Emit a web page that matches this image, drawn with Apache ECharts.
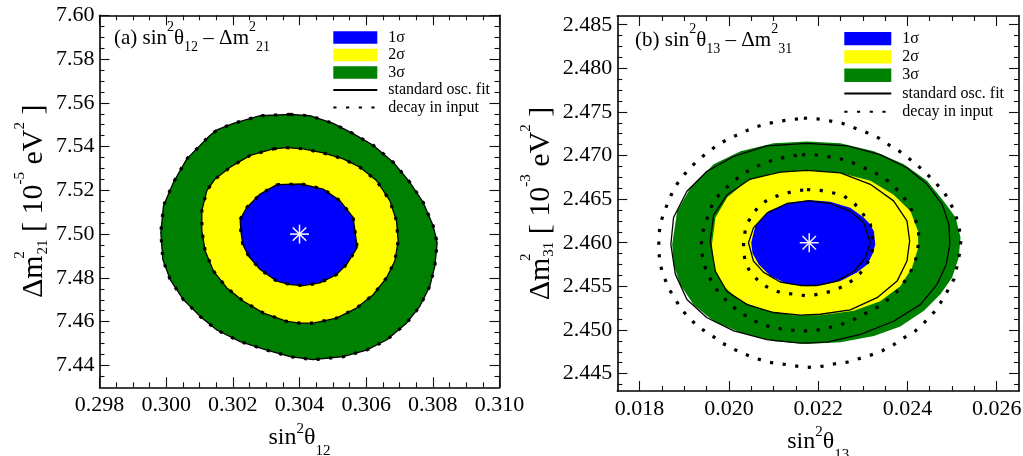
<!DOCTYPE html>
<html><head><meta charset="utf-8">
<script src="https://cdn.jsdelivr.net/npm/echarts@6/dist/echarts.min.js"></script>
<style>html,body{margin:0;padding:0;background:#fff}#c{width:1023px;height:456px}</style>
</head><body><div id="c"></div>
<script>
const FONT = "'Liberation Serif','Times New Roman',serif";

// ---- tick labels ----
const leftXTicks = [0.298, 0.300, 0.302, 0.304, 0.306, 0.308, 0.310];
const leftYTicks = [7.44, 7.46, 7.48, 7.50, 7.52, 7.54, 7.56, 7.58, 7.60];
const rightXTicks = [0.018, 0.020, 0.022, 0.024, 0.026];
const rightYTicks = [2.445, 2.450, 2.455, 2.460, 2.465, 2.470, 2.475, 2.480, 2.485];

// ---- best-fit points ----
const leftBest = [0.304, 7.50];
const rightBest = [0.0218, 2.460];

// ---- panel (a): sin^2 theta12 - dm^2_21 contours (fill = standard fit = decay) ----
const left3s = [[0.30372,7.5547],[0.30431,7.5541],[0.30501,7.5506],[0.30561,7.5459],[0.30621,7.5406],[0.30681,7.5329],[0.30731,7.5237],[0.30771,7.5145],[0.30801,7.5038],[0.30813,7.4961],[0.30806,7.4854],[0.30791,7.4762],[0.30761,7.4670],[0.30721,7.4593],[0.30661,7.4516],[0.30601,7.4470],[0.30531,7.4440],[0.30441,7.4426],[0.30372,7.4440],[0.30302,7.4470],[0.30222,7.4509],[0.30152,7.4562],[0.30102,7.4624],[0.30052,7.4700],[0.30012,7.4792],[0.29990,7.4884],[0.29984,7.5007],[0.29992,7.5130],[0.30022,7.5237],[0.30062,7.5344],[0.30132,7.5452],[0.30152,7.5476],[0.30202,7.5506],[0.30282,7.5541]];
const left2s = [[0.30322,7.5390],[0.30362,7.5395],[0.30411,7.5390],[0.30471,7.5371],[0.30531,7.5344],[0.30581,7.5306],[0.30631,7.5245],[0.30671,7.5153],[0.30691,7.5061],[0.30696,7.4969],[0.30686,7.4877],[0.30661,7.4800],[0.30621,7.4723],[0.30571,7.4662],[0.30511,7.4616],[0.30441,7.4593],[0.30401,7.4593],[0.30362,7.4601],[0.30292,7.4639],[0.30232,7.4693],[0.30182,7.4754],[0.30142,7.4831],[0.30117,7.4923],[0.30107,7.5015],[0.30107,7.5107],[0.30122,7.5199],[0.30147,7.5252],[0.30192,7.5306],[0.30252,7.5360]];
const left1s = [[0.30332,7.5226],[0.30407,7.5229],[0.30471,7.5206],[0.30521,7.5153],[0.30561,7.5076],[0.30573,7.4938],[0.30541,7.4861],[0.30511,7.4815],[0.30461,7.4777],[0.30411,7.4765],[0.30372,7.4769],[0.30332,7.4785],[0.30282,7.4838],[0.30247,7.4900],[0.30230,7.4953],[0.30224,7.5015],[0.30222,7.5068],[0.30242,7.5122],[0.30282,7.5183]];

// ---- panel (b): sin^2 theta13 - dm^2_31 ----
const right3sFill = [[0.02175,2.4716],[0.02250,2.4714],[0.02325,2.4705],[0.02392,2.4690],[0.02444,2.4671],[0.02481,2.4648],[0.02508,2.4629],[0.02519,2.4606],[0.02515,2.4583],[0.02500,2.4560],[0.02474,2.4541],[0.02437,2.4522],[0.02384,2.4504],[0.02325,2.4493],[0.02250,2.4486],[0.02175,2.4484],[0.02100,2.4487],[0.02026,2.4497],[0.01966,2.4510],[0.01921,2.4529],[0.01891,2.4552],[0.01876,2.4575],[0.01873,2.4598],[0.01884,2.4636],[0.01914,2.4663],[0.01966,2.4690],[0.02026,2.4705],[0.02100,2.4714]];
const right2sFill = [[0.02175,2.4683],[0.02250,2.4680],[0.02317,2.4671],[0.02369,2.4655],[0.02407,2.4636],[0.02424,2.4613],[0.02424,2.4594],[0.02410,2.4571],[0.02384,2.4550],[0.02339,2.4533],[0.02280,2.4522],[0.02205,2.4517],[0.02145,2.4517],[0.02085,2.4522],[0.02026,2.4533],[0.01988,2.4550],[0.01967,2.4571],[0.01962,2.4598],[0.01970,2.4629],[0.01996,2.4652],[0.02041,2.4671],[0.02100,2.4680]];
const right1sFill = [[0.02179,2.4649],[0.02227,2.4647],[0.02272,2.4640],[0.02302,2.4629],[0.02317,2.4621],[0.02325,2.4613],[0.02328,2.4598],[0.02322,2.4587],[0.02310,2.4575],[0.02287,2.4566],[0.02250,2.4556],[0.02205,2.4551],[0.02175,2.4550],[0.02130,2.4553],[0.02093,2.4562],[0.02067,2.4575],[0.02053,2.4588],[0.02050,2.4600],[0.02059,2.4619],[0.02089,2.4636],[0.02130,2.4645]];

const right3sStd = [[0.02175,2.4714],[0.02265,2.4711],[0.02339,2.4701],[0.02399,2.4686],[0.02444,2.4667],[0.02478,2.4644],[0.02493,2.4621],[0.02495,2.4598],[0.02487,2.4575],[0.02466,2.4552],[0.02429,2.4529],[0.02369,2.4510],[0.02295,2.4495],[0.02220,2.4486],[0.02160,2.4485],[0.02085,2.4489],[0.02011,2.4499],[0.01951,2.4514],[0.01906,2.4535],[0.01880,2.4564],[0.01870,2.4598],[0.01876,2.4629],[0.01906,2.4659],[0.01951,2.4682],[0.02011,2.4699],[0.02085,2.4711]];
const right2sStd = [[0.02175,2.4683],[0.02250,2.4680],[0.02317,2.4667],[0.02369,2.4648],[0.02399,2.4625],[0.02405,2.4602],[0.02399,2.4579],[0.02377,2.4556],[0.02332,2.4537],[0.02272,2.4523],[0.02205,2.4518],[0.02160,2.4517],[0.02100,2.4520],[0.02041,2.4529],[0.01996,2.4544],[0.01970,2.4567],[0.01958,2.4602],[0.01966,2.4632],[0.01996,2.4655],[0.02048,2.4673],[0.02115,2.4681]];
const right1sStd = [[0.02179,2.4648],[0.02227,2.4645],[0.02272,2.4636],[0.02302,2.4623],[0.02317,2.4600],[0.02306,2.4583],[0.02280,2.4567],[0.02242,2.4556],[0.02198,2.4551],[0.02160,2.4551],[0.02115,2.4555],[0.02078,2.4566],[0.02055,2.4579],[0.02044,2.4600],[0.02055,2.4617],[0.02085,2.4634],[0.02130,2.4645]];

const right3sDecay = [[0.02168,2.4743],[0.02198,2.4742],[0.02224,2.4740],[0.02254,2.4737],[0.02280,2.4732],[0.02310,2.4726],[0.02336,2.4720],[0.02362,2.4711],[0.02388,2.4703],[0.02410,2.4694],[0.02433,2.4684],[0.02455,2.4673],[0.02481,2.4659],[0.02496,2.4646],[0.02508,2.4632],[0.02515,2.4619],[0.02520,2.4604],[0.02517,2.4588],[0.02511,2.4573],[0.02504,2.4558],[0.02489,2.4544],[0.02474,2.4531],[0.02459,2.4520],[0.02437,2.4508],[0.02418,2.4499],[0.02392,2.4491],[0.02369,2.4483],[0.02343,2.4476],[0.02317,2.4471],[0.02291,2.4467],[0.02265,2.4463],[0.02235,2.4461],[0.02205,2.4458],[0.02175,2.4457],[0.02145,2.4459],[0.02119,2.4461],[0.02089,2.4463],[0.02063,2.4467],[0.02037,2.4472],[0.02011,2.4478],[0.01985,2.4485],[0.01958,2.4495],[0.01936,2.4502],[0.01914,2.4512],[0.01895,2.4523],[0.01880,2.4535],[0.01865,2.4548],[0.01854,2.4562],[0.01846,2.4575],[0.01843,2.4590],[0.01843,2.4606],[0.01846,2.4621],[0.01854,2.4634],[0.01865,2.4648],[0.01876,2.4661],[0.01891,2.4673],[0.01910,2.4684],[0.01929,2.4694],[0.01951,2.4703],[0.01977,2.4713],[0.02003,2.4720],[0.02029,2.4726],[0.02055,2.4732],[0.02082,2.4736],[0.02108,2.4739],[0.02138,2.4741]];
const right2sDecay = [[0.02164,2.4701],[0.02190,2.4701],[0.02220,2.4699],[0.02250,2.4696],[0.02276,2.4692],[0.02302,2.4686],[0.02328,2.4680],[0.02351,2.4673],[0.02373,2.4663],[0.02392,2.4652],[0.02407,2.4640],[0.02418,2.4627],[0.02425,2.4613],[0.02425,2.4602],[0.02422,2.4587],[0.02414,2.4573],[0.02399,2.4560],[0.02384,2.4548],[0.02362,2.4537],[0.02336,2.4527],[0.02310,2.4520],[0.02280,2.4512],[0.02250,2.4506],[0.02220,2.4502],[0.02190,2.4499],[0.02160,2.4499],[0.02130,2.4500],[0.02100,2.4503],[0.02074,2.4506],[0.02048,2.4513],[0.02026,2.4520],[0.02003,2.4529],[0.01985,2.4539],[0.01966,2.4550],[0.01955,2.4562],[0.01944,2.4575],[0.01938,2.4594],[0.01940,2.4610],[0.01947,2.4621],[0.01955,2.4634],[0.01966,2.4648],[0.01985,2.4659],[0.02007,2.4669],[0.02029,2.4678],[0.02055,2.4686],[0.02082,2.4692],[0.02108,2.4696],[0.02134,2.4699]];
const right1sDecay = [[0.02175,2.4661],[0.02205,2.4660],[0.02235,2.4657],[0.02257,2.4654],[0.02283,2.4644],[0.02302,2.4632],[0.02317,2.4621],[0.02321,2.4606],[0.02321,2.4590],[0.02313,2.4579],[0.02298,2.4567],[0.02280,2.4558],[0.02257,2.4550],[0.02227,2.4544],[0.02201,2.4541],[0.02175,2.4539],[0.02145,2.4541],[0.02115,2.4543],[0.02089,2.4548],[0.02067,2.4556],[0.02048,2.4566],[0.02037,2.4577],[0.02033,2.4590],[0.02033,2.4602],[0.02037,2.4615],[0.02048,2.4629],[0.02067,2.4642],[0.02089,2.4650],[0.02115,2.4655],[0.02145,2.4659]];

// ---- helpers ----
function minorTicks(majors, n, lo, hi) {
  const step = (majors[1] - majors[0]) / n, out = [];
  const r = v => Math.round(v * 1e7) / 1e7;
  for (let v = majors[0] - step; v > lo + 1e-9; v -= step) out.push(r(v));
  for (let i = 0; i < majors.length - 1; i++)
    for (let k = 1; k < n; k++) out.push(r(majors[i] + k * step));
  for (let v = majors[majors.length - 1] + step; v < hi - 1e-9; v += step) out.push(r(v));
  return out;
}
function mkAxis(grid, pos, min, max, ticks, len, labelDigits, showLine, margin, extra) {
  return Object.assign({
    type: 'value', gridIndex: grid, position: pos, min: min, max: max, scale: true,
    axisLine: { show: showLine, onZero: false, lineStyle: { color: '#000', width: 1.6 } },
    axisTick: { show: true, inside: true, length: len, customValues: ticks, lineStyle: { color: '#111', width: 1.1 } },
    axisLabel: labelDigits ? { show: true, customValues: ticks, formatter: v => v.toFixed(labelDigits),
      fontFamily: FONT, fontSize: 22, color: '#000', margin: margin } : { show: false },
    splitLine: { show: false }, minorTick: { show: false }, axisPointer: { show: false }
  }, extra || {});
}
const LX = [0.298, 0.310], LY = [7.43, 7.60], RX = [0.0175, 0.0265], RY = [2.443, 2.486];
const lxMin = minorTicks(leftXTicks, 4, LX[0], LX[1]);
const lyMin = minorTicks(leftYTicks, 4, LY[0], LY[1]);
const rxMin = minorTicks(rightXTicks, 4, RX[0], RX[1]);
const ryMin = minorTicks(rightYTicks, 4, RY[0], RY[1]);

const supSub = (sz, up, down) => ({
  sup: { fontFamily: FONT, fontSize: sz, color: '#000', padding: [0, 0, up, 0] },
  sub: { fontFamily: FONT, fontSize: sz, color: '#000', padding: [down, 0, 0, 0] },
  sup0: { fontFamily: FONT, fontSize: sz, color: '#000', padding: [0, 0, up, 0], width: 1 }
});
const xName = 'sin{sup|2}θ{sub|12}';
const xNameR = 'sin{sup|2}θ{sub|13}';
const yName = 'Δm{sup0|2}{sub|21} [ 10{sup|-5} eV{sup|2} ]';
const yNameR = 'Δm{sup0|2}{sub|31} [ 10{sup|-3} eV{sup|2} ]';
const xNameStyle = { fontFamily: FONT, fontSize: 24, color: '#000', lineHeight: 28, rich: supSub(15, 19, 26) };
const yNameStyle = { fontFamily: FONT, fontSize: 30, color: '#000', lineHeight: 36, rich: supSub(15, 29, 17) };

const xAxes = [
  mkAxis(0, 'bottom', LX[0], LX[1], leftXTicks, 10, 3, true, 7, { name: xName, nameLocation: 'middle', nameGap: 33, nameTextStyle: xNameStyle }),
  mkAxis(0, 'bottom', LX[0], LX[1], lxMin, 5, 0, false),
  mkAxis(0, 'top', LX[0], LX[1], leftXTicks, 10, 0, true),
  mkAxis(0, 'top', LX[0], LX[1], lxMin, 5, 0, false),
  mkAxis(1, 'bottom', RX[0], RX[1], rightXTicks, 10, 3, true, 7, { name: xNameR, nameLocation: 'middle', nameGap: 33, nameTextStyle: xNameStyle }),
  mkAxis(1, 'bottom', RX[0], RX[1], rxMin, 5, 0, false),
  mkAxis(1, 'top', RX[0], RX[1], rightXTicks, 10, 0, true),
  mkAxis(1, 'top', RX[0], RX[1], rxMin, 5, 0, false)
];
const yAxes = [
  mkAxis(0, 'left', LY[0], LY[1], leftYTicks, 10, 2, true, 5, { name: yName, nameLocation: 'middle', nameGap: 39, nameTextStyle: yNameStyle }),
  mkAxis(0, 'left', LY[0], LY[1], lyMin, 5, 0, false),
  mkAxis(0, 'right', LY[0], LY[1], leftYTicks, 10, 0, true),
  mkAxis(0, 'right', LY[0], LY[1], lyMin, 5, 0, false),
  mkAxis(1, 'left', RY[0], RY[1], rightYTicks, 10, 3, true, 5, { name: yNameR, nameLocation: 'middle', nameGap: 51, nameTextStyle: yNameStyle }),
  mkAxis(1, 'left', RY[0], RY[1], ryMin, 5, 0, false),
  mkAxis(1, 'right', RY[0], RY[1], rightYTicks, 10, 0, true),
  mkAxis(1, 'right', RY[0], RY[1], ryMin, 5, 0, false)
];

const BLUE = '#0000ff', YELLOW = '#ffff00', GREEN = '#008000';
const SOLID = 'standard osc. fit', DOTTED = 'decay in input';
function fill(name, pts, color, g) {
  return { type: 'custom', name: name, xAxisIndex: g * 4, yAxisIndex: g * 4, data: pts, silent: true,
    itemStyle: { color: color }, z: 2,
    renderItem: (params, api) => params.dataIndex === 0 ? {
      type: 'polygon', shape: { points: pts.map(p => api.coord(p)) }, style: { fill: color, stroke: null } } : null };
}
function outline(name, pts, g, dotted) {
  return { type: 'line', name: name, xAxisIndex: g * 4, yAxisIndex: g * 4, data: pts.concat([pts[0]]),
    symbol: 'none', showSymbol: false, silent: true, z: dotted ? 4 : 3, color: '#000',
    lineStyle: dotted ? { color: '#000', width: 3.2, type: [3.2, 9.5], cap: 'butt' } : { color: '#000', width: 1.3, type: 'solid' } };
}
function star(pt, g, color) {
  return { type: 'custom', name: 'best fit', xAxisIndex: g * 4, yAxisIndex: g * 4, data: [pt], silent: true, z: 6,
    renderItem: (params, api) => {
      const c = api.coord([api.value(0), api.value(1)]), r = 9.5, d = r * 0.7071;
      const segs = [[0, -r, 0, r], [-r, 0, r, 0], [-d, -d, d, d], [-d, d, d, -d]];
      return { type: 'group', children: segs.map(s => ({ type: 'line',
        shape: { x1: c[0] + s[0], y1: c[1] + s[1], x2: c[0] + s[2], y2: c[1] + s[3] },
        style: { stroke: color, lineWidth: 1.5 } })) };
    } };
}

const series = [
  fill('3σ', left3s, GREEN, 0), fill('2σ', left2s, YELLOW, 0), fill('1σ', left1s, BLUE, 0),
  outline(SOLID, left3s, 0, false), outline(SOLID, left2s, 0, false), outline(SOLID, left1s, 0, false),
  outline(DOTTED, left3s, 0, true), outline(DOTTED, left2s, 0, true), outline(DOTTED, left1s, 0, true),
  star(leftBest, 0, '#ffffff'),
  fill('3σ', right3sFill, GREEN, 1), fill('2σ', right2sFill, YELLOW, 1), fill('1σ', right1sFill, BLUE, 1),
  outline(SOLID, right3sStd, 1, false), outline(SOLID, right2sStd, 1, false), outline(SOLID, right1sStd, 1, false),
  outline(DOTTED, right3sDecay, 1, true), outline(DOTTED, right2sDecay, 1, true), outline(DOTTED, right1sDecay, 1, true),
  star(rightBest, 1, '#f0f0f0')
];

function legendOf(left, top, w, h, gap) {
  const hide = { color: 'rgba(0,0,0,0)', opacity: 0, borderWidth: 0 };
  return { left: left, top: top, orient: 'vertical', padding: 0, itemWidth: w, itemHeight: h, itemGap: gap,
    selectedMode: false,
    textStyle: { fontFamily: FONT, fontSize: 16, color: '#000', lineHeight: h, padding: [0, 0, 0, 6] },
    data: [
      { name: '1σ', icon: 'rect' }, { name: '2σ', icon: 'rect' }, { name: '3σ', icon: 'rect' },
      { name: SOLID, lineStyle: { width: 2 }, itemStyle: hide }, { name: DOTTED, itemStyle: hide }
    ] };
}
const titleRich = supSub(14, 21, 18);
const option = {
  animation: false,
  backgroundColor: '#fff',
  grid: [
    { left: 99.5, top: 15.3, width: 400, height: 372, containLabel: false, outerBoundsMode: 'none' },
    { left: 617.3, top: 16, width: 401.7, height: 375, containLabel: false, outerBoundsMode: 'none' }
  ],
  title: [
    { text: '(a) sin{sup|2}θ{sub|12} – Δm{sup|2}{sub|21}', left: 114, top: 25, padding: 0,
      textStyle: { fontFamily: FONT, fontSize: 21, fontWeight: 'normal', color: '#000', lineHeight: 26, rich: titleRich } },
    { text: '(b) sin{sup|2}θ{sub|13} – Δm{sup|2}{sub|31}', left: 635, top: 27, padding: 0,
      textStyle: { fontFamily: FONT, fontSize: 21, fontWeight: 'normal', color: '#000', lineHeight: 26, rich: titleRich } }
  ],
  legend: [legendOf(332.3, 29.5, 44, 12.5, 1.5), legendOf(843.3, 30.6, 47, 13.4, 2.3)],
  xAxis: xAxes,
  yAxis: yAxes,
  series: series
};
const chart = echarts.init(document.getElementById('c'), null, { renderer: 'canvas' });
chart.setOption(option);
</script>
</body></html>
